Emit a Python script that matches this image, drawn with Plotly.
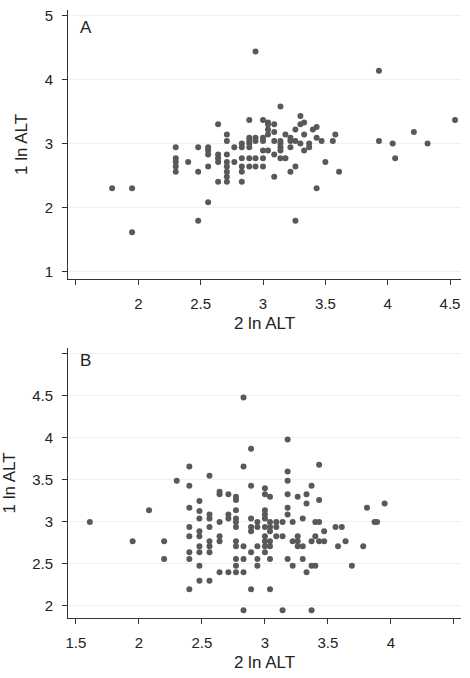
import plotly.graph_objects as go

# ---------------- Panel A data (2 ln ALT vs 1 ln ALT) ----------------
a_x = [1.79, 1.95, 1.95,
       2.30, 2.30, 2.30, 2.30, 2.30,
       2.40,
       2.48, 2.48, 2.48,
       2.56, 2.56, 2.56, 2.56, 2.56,
       2.64, 2.64, 2.64, 2.64, 2.64,
       2.71, 2.71, 2.71, 2.71, 2.71, 2.71, 2.71, 2.71,
       2.77, 2.77,
       2.83, 2.83, 2.83, 2.83, 2.83, 2.83,
       2.89, 2.89, 2.89, 2.89, 2.89, 2.89, 2.89,
       2.94, 2.94, 2.94, 2.94,
       3.00, 3.00, 3.00, 3.00, 3.00, 3.00,
       3.04, 3.04, 3.04, 3.04, 3.04,
       3.09, 3.09, 3.09, 3.09, 3.09,
       3.14, 3.14, 3.14, 3.14, 3.14, 3.14,
       3.18, 3.18,
       3.22, 3.22, 3.22, 3.22,
       3.26, 3.26, 3.26, 3.26,
       3.30, 3.30, 3.30,
       3.33, 3.33, 3.33,
       3.37, 3.37,
       3.40, 3.43, 3.43, 3.43, 3.47, 3.50, 3.56, 3.58, 3.61,
       3.93, 4.04, 4.06, 4.21, 4.32, 4.54,
       2.94, 3.93]
a_y = [2.30, 2.30, 1.61,
       2.94, 2.77, 2.71, 2.64, 2.56,
       2.71,
       2.94, 2.56, 1.79,
       2.94, 2.89, 2.83, 2.64, 2.08,
       3.30, 2.83, 2.77, 2.71, 2.40,
       3.14, 3.04, 2.83, 2.71, 2.64, 2.56, 2.48, 2.40,
       2.94, 2.71,
       3.00, 2.94, 2.77, 2.64, 2.56, 2.40,
       3.37, 3.09, 3.04, 3.00, 2.94, 2.77, 2.64,
       3.09, 3.04, 2.77, 2.64,
       3.37, 3.09, 3.04, 2.89, 2.77, 2.64,
       3.33, 3.30, 3.22, 3.14, 2.89,
       3.30, 3.18, 3.04, 2.83, 2.48,
       3.58, 3.04, 3.00, 2.94, 2.89, 2.77,
       3.14, 2.77,
       3.09, 3.04, 2.94, 2.56,
       3.22, 3.04, 2.64, 1.79,
       3.43, 3.30, 3.00,
       3.33, 3.14, 2.89,
       3.00, 2.94,
       3.22, 3.26, 3.09, 2.30, 3.04, 2.71, 3.04, 3.14, 2.56,
       3.04, 3.00, 2.77, 3.18, 3.00, 3.37,
       4.44, 4.14]

# ---------------- Panel B data ----------------
b_x = [1.61, 1.95, 2.08, 2.20, 2.20, 2.30,
       2.40, 2.40, 2.40, 2.40, 2.40, 2.40, 2.40, 2.40,
       2.48, 2.48, 2.48, 2.48, 2.48, 2.48, 2.48, 2.48, 2.48,
       2.56, 2.56, 2.56, 2.56, 2.56, 2.56, 2.56, 2.56,
       2.64, 2.64, 2.64, 2.64, 2.64, 2.64,
       2.71, 2.71, 2.71, 2.71,
       2.77, 2.77, 2.77, 2.77, 2.77, 2.77, 2.77, 2.77, 2.77, 2.77, 2.77,
       2.83, 2.83, 2.83, 2.83, 2.83, 2.83,
       2.89, 2.89, 2.89, 2.89, 2.89, 2.89, 2.89,
       2.94, 2.94, 2.94, 2.94, 2.94,
       3.00, 3.00, 3.00, 3.00, 3.00, 3.00, 3.00, 3.00, 3.00, 3.00,
       3.04, 3.04, 3.04, 3.04, 3.04, 3.04, 3.04, 3.04,
       3.09, 3.09, 3.09,
       3.14, 3.14, 3.14,
       3.18, 3.18, 3.18, 3.18, 3.18, 3.18, 3.18,
       3.22, 3.22, 3.22,
       3.26, 3.26, 3.26, 3.26,
       3.30, 3.30, 3.30,
       3.33, 3.33, 3.33,
       3.37, 3.37, 3.37, 3.37,
       3.40, 3.40, 3.40,
       3.43, 3.43, 3.43, 3.43,
       3.47, 3.47,
       3.56, 3.58, 3.61, 3.64, 3.69, 3.78, 3.81, 3.87, 3.89, 3.95]
b_y = [3.00, 2.77, 3.14, 2.77, 2.56, 3.49,
       3.66, 3.43, 3.17, 2.94, 2.83, 2.64, 2.56, 2.20,
       3.25, 3.13, 3.04, 2.89, 2.83, 2.71, 2.64, 2.48, 2.30,
       3.55, 3.09, 3.04, 2.94, 2.77, 2.71, 2.64, 2.30,
       3.36, 3.33, 3.00, 2.83, 2.77, 2.40,
       3.33, 3.09, 3.04, 2.40,
       3.30, 3.26, 3.14, 3.04, 3.00, 2.94, 2.77, 2.71, 2.56, 2.48, 2.40,
       4.48, 3.66, 2.71, 2.56, 2.40, 1.95,
       3.87, 3.43, 3.04, 2.94, 2.89, 2.64, 2.20,
       3.00, 2.94, 2.71, 2.56, 2.48,
       3.40, 3.33, 3.14, 3.09, 3.04, 2.94, 2.83, 2.77, 2.71, 2.64,
       3.30, 3.00, 2.94, 2.89, 2.77, 2.71, 2.56, 2.20,
       3.00, 2.94, 2.83,
       3.00, 2.83, 1.95,
       3.98, 3.60, 3.49, 3.33, 3.17, 3.09, 2.56,
       3.00, 2.77, 2.48,
       3.30, 2.83, 2.77, 2.71,
       3.04, 2.71, 2.56,
       3.33, 3.22, 2.40,
       3.43, 2.77, 2.48, 1.95,
       3.00, 2.83, 2.48,
       3.68, 3.26, 3.00, 2.77,
       2.89, 2.77,
       2.94, 2.71, 2.94, 2.77, 2.48, 2.71, 3.17, 3.00, 3.00, 3.22]

# ---------------- tick definitions ----------------
a_xticks = [1.5, 2, 2.5, 3, 3.5, 4, 4.5]
a_xtext = ["", "2", "2.5", "3", "3.5", "4", "4.5"]
a_yticks = [1, 2, 3, 4, 5]
a_ytext = ["1", "2", "3", "4", "5"]
b_xticks = [1.5, 2, 2.5, 3, 3.5, 4, 4.5]
b_xtext = ["1.5", "2", "2.5", "3", "3.5", "4", ""]
b_yticks = [2, 2.5, 3, 3.5, 4, 4.5, 5]
b_ytext = ["2", "2.5", "3", "3.5", "4", "4.5", ""]

x_title = "2 ln ALT"
y_title = "1 ln ALT"
panel_labels = ["A", "B"]

FONT = "Liberation Sans, Arial, Helvetica, sans-serif"
DOT = "#595959"
LINE = "#333333"
GRID = "#f0f0f0"

fig = go.Figure()
fig.add_trace(go.Scatter(x=a_x, y=a_y, mode="markers", xaxis="x", yaxis="y",
                         marker=dict(size=6, color=DOT, line=dict(width=0)),
                         showlegend=False, hoverinfo="x+y"))
fig.add_trace(go.Scatter(x=b_x, y=b_y, mode="markers", xaxis="x2", yaxis="y2",
                         marker=dict(size=6, color=DOT, line=dict(width=0)),
                         showlegend=False, hoverinfo="x+y"))

def xaxis_cfg(rng, vals, text, anchor):
    return dict(range=rng, tickmode="array", tickvals=vals, ticktext=text,
                showline=True, linecolor=LINE, linewidth=1, mirror=False,
                ticks="outside", ticklen=5, tickwidth=1, tickcolor=LINE,
                ticklabelstandoff=6,
                showgrid=False, zeroline=False, anchor=anchor,
                tickfont=dict(family=FONT, size=15, color="#222222"),
                title=dict(text=x_title, standoff=6,
                           font=dict(family=FONT, size=17, color="#222222")))

def yaxis_cfg(rng, vals, text, anchor, domain):
    return dict(range=rng, tickmode="array", tickvals=vals, ticktext=text,
                domain=domain,
                showline=True, linecolor=LINE, linewidth=1, mirror=False,
                ticks="outside", ticklen=5, tickwidth=1, tickcolor=LINE,
                ticklabelstandoff=6,
                showgrid=True, gridcolor=GRID, gridwidth=1,
                zeroline=False, anchor=anchor,
                tickfont=dict(family=FONT, size=15, color="#222222"),
                title=dict(text=y_title, standoff=12,
                           font=dict(family=FONT, size=17, color="#222222")))

fig.update_layout(
    width=470, height=678,
    margin=dict(l=68, r=9, t=10, b=60, autoexpand=False),
    paper_bgcolor="white", plot_bgcolor="white",
    font=dict(family=FONT, color="#222222"),
    xaxis=xaxis_cfg([1.436, 4.588], a_xticks, a_xtext, "y"),
    yaxis=yaxis_cfg([0.88, 5.09], a_yticks, a_ytext, "x", [0.5576, 1.0]),
    xaxis2=xaxis_cfg([1.437, 4.556], b_xticks, b_xtext, "y2"),
    yaxis2=yaxis_cfg([1.857, 5.07], b_yticks, b_ytext, "x2", [0.0, 0.4441]),
    annotations=[
        dict(text=panel_labels[0], xref="x domain", yref="y domain",
             x=0.026, y=0.935, xanchor="left", yanchor="middle", showarrow=False,
             font=dict(family=FONT, size=17, color="#222222")),
        dict(text=panel_labels[1], xref="x2 domain", yref="y2 domain",
             x=0.026, y=0.952, xanchor="left", yanchor="middle", showarrow=False,
             font=dict(family=FONT, size=17, color="#222222")),
    ],
)

fig.write_html("out.html", config={"displayModeBar": False},
               post_script="document.body.style.margin='0';document.body.style.overflow='hidden';")
